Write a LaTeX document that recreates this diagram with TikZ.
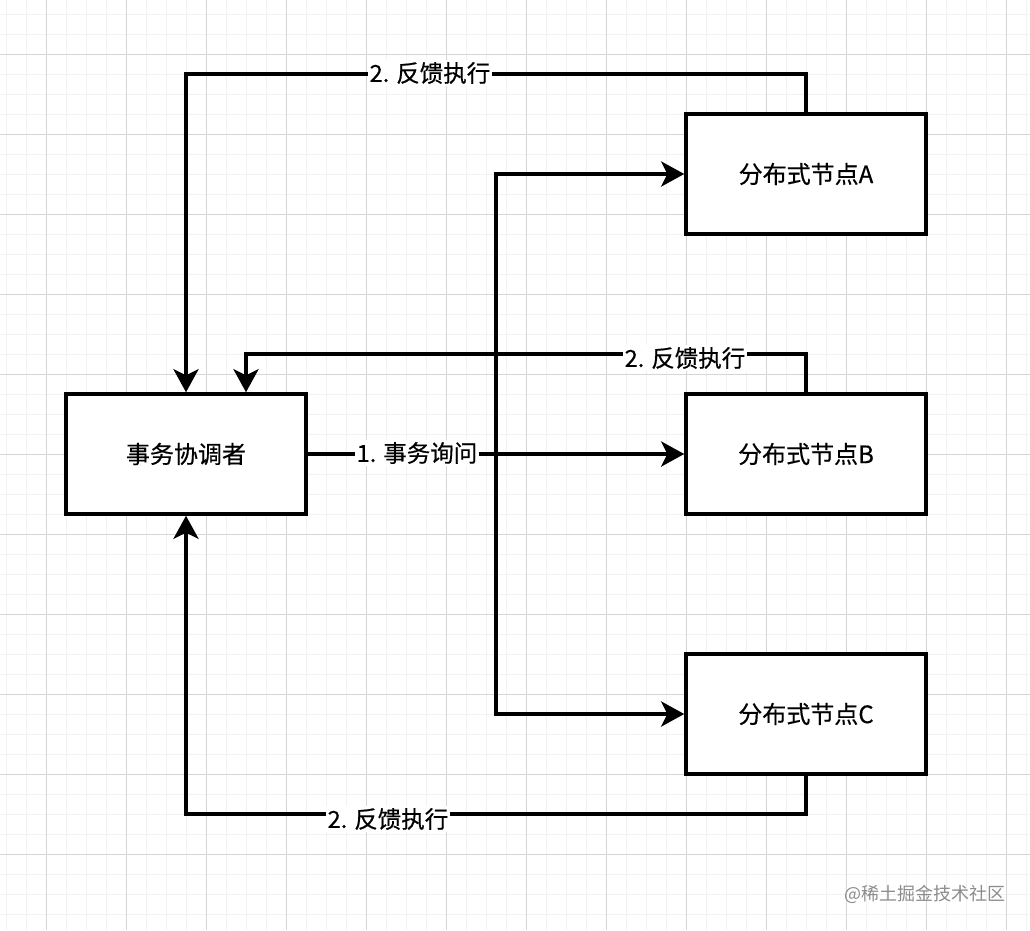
\documentclass[tikz,border=0pt]{standalone}
\usepackage{fontspec}
\setmainfont{Noto Sans CJK SC}
\newfontfamily\lblfont{Noto Sans CJK SC}[FakeBold=0.5]
\usetikzlibrary{arrows.meta}
\definecolor{minorgrid}{HTML}{F2F2F2}
\definecolor{majorgrid}{HTML}{D6D6D6}
\tikzset{
  box/.style={draw=black, line width=3.5pt, fill=white, minimum width=240pt, minimum height=120pt, font=\lblfont\fontsize{24}{29}\selectfont},
  conn/.style={line width=3.5pt, -{Stealth[length=23pt,width=25pt,inset=6pt]}},
  plain/.style={line width=3.5pt},
  lbl/.style={fill=white, inner sep=2pt, font=\lblfont\fontsize{23.5}{28}\selectfont},
  wm/.style={text=black!45, font=\fontsize{18}{22}\selectfont}
}
\begin{document}
\begin{tikzpicture}[x=1pt,y=-1pt]
\useasboundingbox (0,0) rectangle (1030,930);
\fill[white] (0,0) rectangle (1030,930);
% grid
\foreach \i in {0,...,51} {\draw[minorgrid, line width=1pt] ({6+20*\i},0) -- ({6+20*\i},930);}
\foreach \i in {0,...,46} {\draw[minorgrid, line width=1pt] (0,{14+20*\i}) -- (1030,{14+20*\i});}
\foreach \i in {0,...,12} {\draw[majorgrid, line width=1pt] ({46+80*\i},0) -- ({46+80*\i},930);}
\foreach \i in {0,...,11} {\draw[majorgrid, line width=1pt] (0,{54+80*\i}) -- (1030,{54+80*\i});}
% nodes
\node[box] (co) at (186,454) {事务协调者};
\node[box] (na) at (806,174) {分布式节点A};
\node[box] (nb) at (806,454) {分布式节点B};
\node[box] (nc) at (806,714) {分布式节点C};
\coordinate (t1) at (186,74);
\coordinate (t2) at (246,354);
\coordinate (t3) at (186,814);
\coordinate (sp) at (496,454);
% connectors
\draw[plain] (co.east) -- (sp);
\draw[conn] (sp) -- (nb.west);
\draw[conn] (sp) |- (na.west);
\draw[conn] (sp) |- (nc.west);
\draw[conn] (na.north) |- (t1) -- (co.north);
\draw[conn] (nb.north) |- (t2) -- (t2 |- co.north);
\draw[conn] (nc.south) |- (t3) -- (co.south);
% labels
\node[lbl] (l1) at (417,453) {1. 事务询问};
\node[lbl] (l2) at (430,73) {2. 反馈执行};
\node[lbl] (l3) at (685,358) {2. 反馈执行};
\node[lbl] (l4) at (388,819) {2. 反馈执行};
\node[wm] (w) at (925,894) {@稀土掘金技术社区};
\end{tikzpicture}
\end{document}
